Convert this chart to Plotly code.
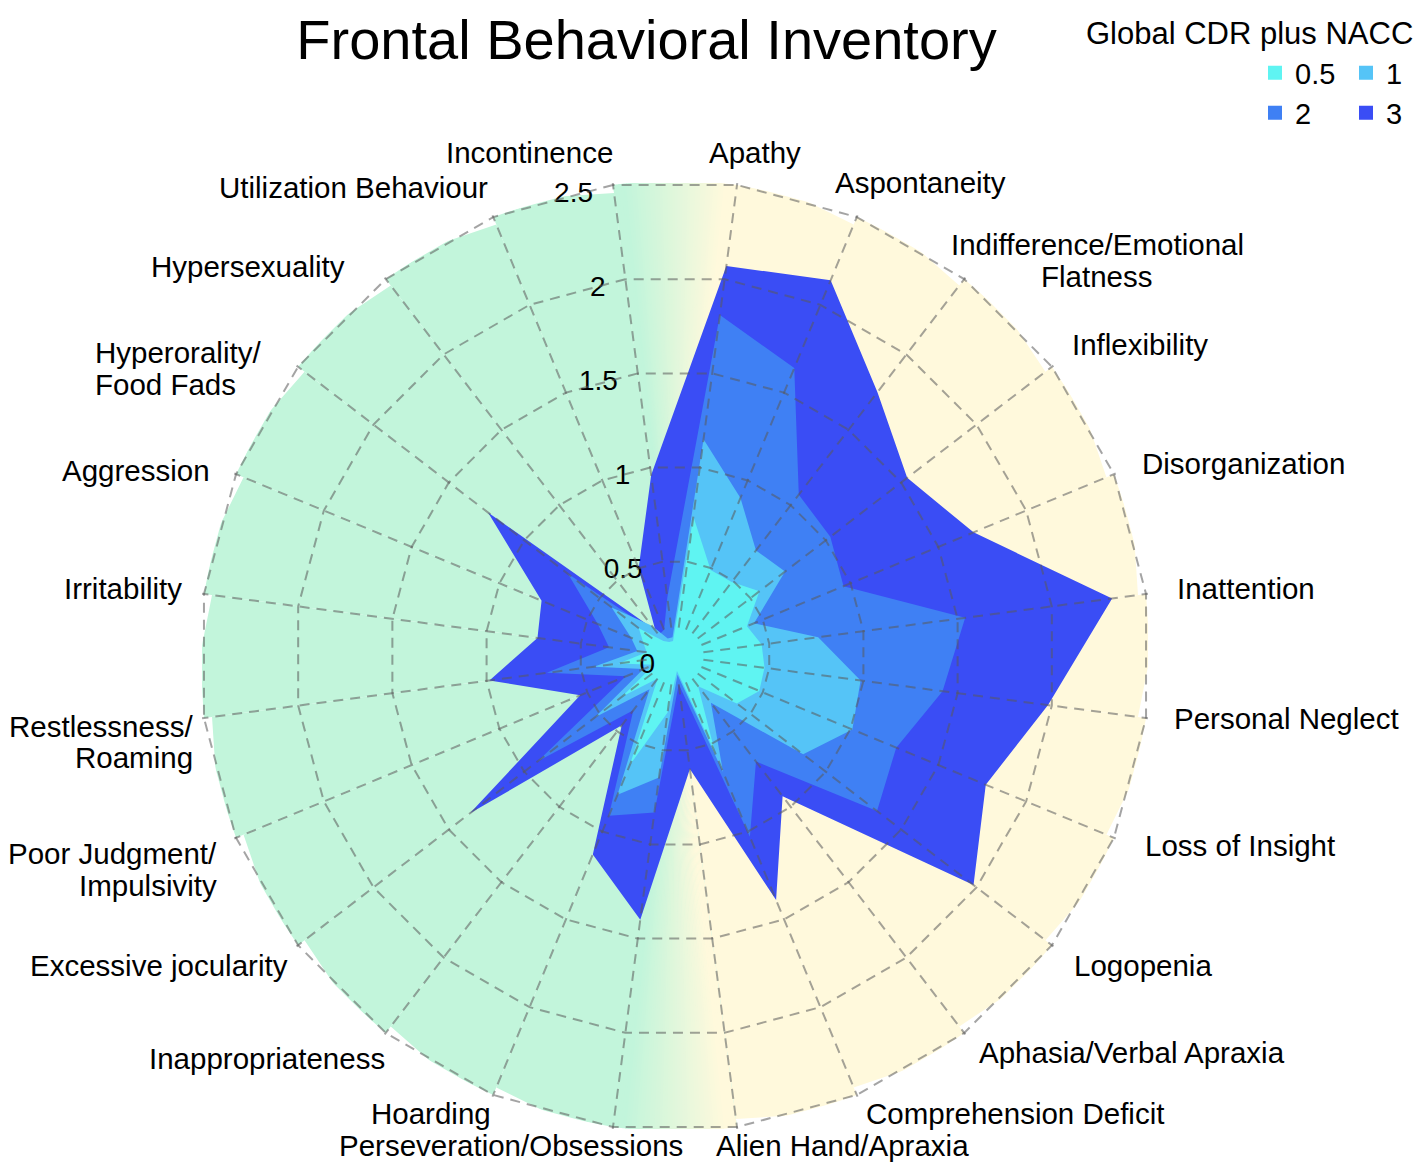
import numpy as np
import plotly.graph_objects as go

categories = [
    "Apathy", "Aspontaneity", "Indifference/Emotional Flatness", "Inflexibility",
    "Disorganization", "Inattention", "Personal Neglect", "Loss of Insight",
    "Logopenia", "Aphasia/Verbal Apraxia", "Comprehension Deficit", "Alien Hand/Apraxia",
    "Perseveration/Obsessions", "Hoarding", "Inappropriateness", "Excessive jocularity",
    "Poor Judgment/Impulsivity", "Restlessness/Roaming", "Irritability", "Aggression",
    "Hyperorality/Food Fads", "Hypersexuality", "Utilization Behaviour", "Incontinence",
]
label_lines = [
    ["Apathy"], ["Aspontaneity"], ["Indifference/Emotional", "Flatness"], ["Inflexibility"],
    ["Disorganization"], ["Inattention"], ["Personal Neglect"], ["Loss of Insight"],
    ["Logopenia"], ["Aphasia/Verbal Apraxia"], ["Comprehension Deficit"], ["Alien Hand/Apraxia"],
    ["Perseveration/Obsessions"], ["Hoarding"], ["Inappropriateness"], ["Excessive jocularity"],
    ["Poor Judgment/", "Impulsivity"], ["Restlessness/", "Roaming"], ["Irritability"], ["Aggression"],
    ["Hyperorality/", "Food Fads"], ["Hypersexuality"], ["Utilization Behaviour"], ["Incontinence"],
]

cdr_05 = [0.74, 0.49, 0.49, 0.56, 0.41, 0.46, 0.475, 0.48, 0.41, 0.20, 0.55, 0.08,
          0.30, 0.62, 0.15, 0.35, 0.12, 0.30, 0.15, 0.18, 0.24, 0.10, 0.08, 0.08]
cdr_1 = [1.15, 0.90, 0.70, 0.73, 0.45, 0.76, 0.985, 1.01, 0.85, 0.31, 0.66, 0.10,
         0.645, 0.79, 0.22, 0.53, 0.18, 0.43, 0.20, 0.25, 0.42, 0.20, 0.10, 0.10]
cdr_2 = [1.81, 1.64, 1.07, 1.03, 0.96, 1.54, 1.42, 1.26, 1.34, 0.70, 1.03, 0.15,
         0.83, 0.91, 0.36, 0.91, 0.28, 0.68, 0.35, 0.44, 0.71, 0.14, 0.15, 0.31]
cdr_3 = [2.07, 2.14, 1.75, 1.54, 1.70, 2.32, 1.98, 1.77, 1.98, 0.93, 1.39, 0.60,
         1.40, 1.13, 0.46, 1.36, 0.54, 0.985, 0.73, 0.76, 1.24, 0.17, 0.50, 0.96]

group_names = ["0.5", "1", "2", "3"]
group_values = [cdr_05, cdr_1, cdr_2, cdr_3]
group_colors = ["#5FF4F2", "#55C4F7", "#3F80F4", "#3A4DF5"]

radial_ticks = [0, 0.5, 1, 1.5, 2, 2.5]
r_max = 2.5

# ---- layout / style (figure pixel coordinates) ----
W, H = 1408, 1156
FONT = "Liberation Sans, Arial, Helvetica, sans-serif"
GREEN = np.array([194, 245, 219])
YELLOW = np.array([255, 249, 220])
GRID = "rgba(90,90,90,0.55)"
CX, CY, R = 667, 648, 477
R_TOP = 2.51
HOLE = 0.06
# label placement: (x, y of first line, anchor)
label_pos = [
    (699, 144, "left"), (825, 175, "left"), (1089, 237, "center"), (1062, 337, "left"),
    (1132, 455, "left"), (1167, 580, "left"), (1164, 710, "left"), (1135, 837, "left"),
    (1064, 957, "left"), (969, 1044, "left"), (856, 1105, "left"), (706, 1137, "left"),
    (677, 1137, "right"), (485, 1105, "right"), (379, 1050, "right"), (282, 957, "right"),
    (211, 845, "right"), (187, 718, "right"), (176, 580, "right"), (204, 462, "right"),
    (85, 344, "left"), (339, 259, "right"), (482, 180, "right"), (607, 144, "right"),
]
LINE_GAP = 32


def rgb(c):
    return "rgb(%d,%d,%d)" % tuple(int(round(v)) for v in c)


def px(x):
    return x / W


def py(y):
    return 1 - y / H


fig = go.Figure()

# background halves
n = len(categories)
half = n // 2
bg_colors = [rgb(YELLOW) if i <= half - 2 else rgb(GREEN) for i in range(n)]
fig.add_trace(go.Barpolar(
    r=[r_max] * n, theta=categories, width=[1] * n, offset=[0] * n,
    marker=dict(color=bg_colors, line=dict(width=0)),
    hoverinfo="skip", showlegend=False, subplot="polar",
))
# gradient bands between halves
N = 48
steps = np.arange(N)
t = (steps + 0.5) / N
ramp = np.clip((t - 0.09) / (0.91 - 0.09), 0, 1)
top_cols = [rgb(GREEN + (YELLOW - GREEN) * a) for a in ramp]
bot_cols = [rgb(YELLOW + (GREEN - YELLOW) * a) for a in ramp]
for start_cat, cols in ((categories[-1], top_cols), (categories[half - 1], bot_cols)):
    fig.add_trace(go.Barpolar(
        r=[r_max] * N, theta=[start_cat] * N,
        offset=list(steps / N), width=[1.4 / N] * N,
        marker=dict(color=cols, line=dict(width=0)),
        hoverinfo="skip", showlegend=False, subplot="polar",
    ))

# data layers, largest (3) at the back
for name, vals, col in reversed(list(zip(group_names, group_values, group_colors))):
    fig.add_trace(go.Scatterpolar(
        r=vals, theta=categories, fill="toself", mode="none",
        fillcolor=col, name=name, showlegend=False, subplot="polar2",
    ))

# legend entries (square markers, two rows)
for k, (name, col) in enumerate(zip(group_names, group_colors)):
    fig.add_trace(go.Scatterpolar(
        r=[None] * n, theta=categories, mode="markers", name=name,
        marker=dict(symbol="square", size=14, color=col),
        legend="legend" if k < 2 else "legend2", subplot="polar2",
    ))

# grid-only subplot on top
fig.add_trace(go.Scatterpolar(r=[None] * n, theta=categories, mode="markers",
                              showlegend=False, hoverinfo="skip", subplot="polar3"))

domain = dict(x=[px(CX - R), px(CX + R)], y=[py(CY + R), py(CY - R)])
ang_base = dict(type="category", categoryorder="array", categoryarray=categories,
                rotation=82.5, direction="clockwise", showline=False, ticks="",
                showticklabels=False)
dash = dict(gridcolor=GRID, griddash="10px,7px", gridwidth=2)

bg_polar = dict(domain=domain, bgcolor="rgba(0,0,0,0)", gridshape="linear", barmode="overlay",
                angularaxis=dict(ang_base, showgrid=False),
                radialaxis=dict(range=[0, R_TOP], visible=False))
data_polar = dict(domain=domain, bgcolor="rgba(0,0,0,0)", gridshape="linear",
                  angularaxis=dict(ang_base, showgrid=False),
                  radialaxis=dict(range=[0, R_TOP], showline=False, ticks="", showgrid=False,
                                  tickmode="array", tickvals=radial_ticks,
                                  ticktext=[("%g" % v) for v in radial_ticks],
                                  angle=97.5, tickangle=97.5, side="counterclockwise",
                                  tickfont=dict(family=FONT, size=28, color="black")))
# grid layer: a small hole keeps the dashed spokes from piling up at the centre;
# its range start is scaled so the rings line up exactly with the data subplot
grid_polar = dict(domain=domain, bgcolor="rgba(0,0,0,0)", gridshape="linear", hole=HOLE,
                  angularaxis=dict(ang_base, showgrid=True, **dash),
                  radialaxis=dict(range=[R_TOP * HOLE, R_TOP], showline=False, ticks="",
                                  showticklabels=False, showgrid=True,
                                  tickmode="array", tickvals=radial_ticks, **dash))

annotations = [dict(text="Global CDR plus NACC", xref="paper", yref="paper",
                    x=px(1407), y=py(25), xanchor="right", yanchor="middle",
                    showarrow=False, font=dict(family=FONT, size=31, color="black"))]
for lines, (lx, ly, anchor) in zip(label_lines, label_pos):
    for j, line in enumerate(lines):
        annotations.append(dict(
            text=line, xref="paper", yref="paper", x=px(lx), y=py(ly + j * LINE_GAP),
            xanchor=anchor, yanchor="middle", showarrow=False,
            font=dict(family=FONT, size=29.5, color="black")))

legend_common = dict(
    orientation="h", xanchor="left", yanchor="middle",
    font=dict(family=FONT, size=29, color="black"),
    bgcolor="rgba(0,0,0,0)", entrywidth=46, entrywidthmode="pixels",
    itemsizing="trace",
)

fig.update_layout(
    width=W, height=H,
    margin=dict(l=0, r=0, t=0, b=0, autoexpand=False),
    paper_bgcolor="white",
    font=dict(family=FONT, color="black"),
    title=dict(text="Frontal Behavioral Inventory", x=px(638.5), xanchor="center",
               y=py(31), yanchor="middle",
               font=dict(family=FONT, size=56, color="black")),
    polar=bg_polar,
    polar2=data_polar,
    polar3=grid_polar,
    legend=dict(x=px(1247), y=py(65), **legend_common),
    legend2=dict(x=px(1247), y=py(105), **legend_common),
    annotations=annotations,
)

fig.write_html("out.html")
